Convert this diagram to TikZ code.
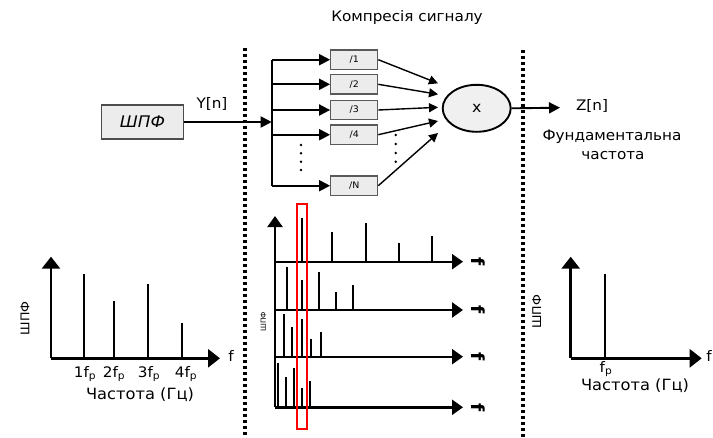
\documentclass[tikz,border=0pt]{standalone}
\usepackage{fontspec}
\setmainfont{DejaVu Sans}
\newfontfamily\hand[FakeStretch=1.05]{DejaVu Sans}
\usetikzlibrary{arrows.meta,shapes.geometric}
\begin{document}
\begin{tikzpicture}[x=1pt,y=-1pt,
  lbl/.style={font=\hand\fontsize{14.5}{16}\selectfont, inner sep=0pt},
  ylbl/.style={font=\hand\fontsize{12}{14}\selectfont, inner sep=0pt, rotate=90},
  xlbl/.style={font=\hand\fontsize{15.5}{17}\selectfont, inner sep=0pt},
  small/.style={font=\hand\fontsize{7}{8}\selectfont, inner sep=0pt},
  blk/.style={draw=gray!70!black, fill=gray!15, line width=1.2pt, minimum width=47pt, minimum height=19.5pt, inner sep=0pt, font=\hand\fontsize{9}{10}\selectfont},
  conn/.style={line width=1.9pt, -{Triangle[length=11pt,width=11pt]}},
  fan/.style={line width=1.4pt, -{Triangle[length=9pt,width=9pt]}},
  sep/.style={line width=3.2pt, dash pattern=on 3pt off 3pt},
  axis/.style={line width=2.8pt, -{Triangle[length=12pt,width=18pt]}},
  maxis/.style={line width=2.4pt, -{Triangle[length=11pt,width=15pt]}},
  spike/.style={line width=2.3pt},
  dot/.style={circle, fill=black, inner sep=0pt, minimum size=2.8pt}
]
\useasboundingbox (0,0) rectangle (713,437);

% title
\node[lbl] (title) at (407,17) {Компресія сигналу};

% separators
\draw[sep] (245,48) -- (245,437);
\draw[sep] (523,50) -- (523,437);

% FFT box and input
\node[draw=gray!60!black, fill=gray!15, line width=1.6pt, minimum width=82pt, minimum height=34pt, inner sep=0pt, font=\hand\itshape\fontsize{16}{18}\selectfont] (shpf) at (142.5,122) {ШПФ};
\node[lbl] (yn) at (212,104) {Y[n]};
\coordinate (br) at (271.7,122);
\draw[conn] (shpf.east) -- (br);

% compression blocks
\node[blk] (b1) at (354.2,59.7) {/1};
\node[blk] (b2) at (354.2,84.3) {/2};
\node[blk] (b3) at (354.2,110) {/3};
\node[blk] (b4) at (354.2,134.7) {/4};
\node[blk] (bN) at (354.2,185.7) {/N};
\coordinate (btop) at (271.7,59.7);
\coordinate (bbot) at (271.7,185.7);
\draw[line width=1.9pt] (btop) -- (bbot);
\foreach \b in {b1,b2,b3,b4,bN}{
  \draw[conn] (btop |- \b.west) -- (\b.west);
}
\foreach \y in {145,153.3,161.7,170} \node[dot] at (301,\y) {};
\foreach \y in {135,144,153,161.7} \node[dot] at (395.7,\y) {};

% multiplier
\node[ellipse, draw, fill=gray!12, line width=1.9pt, minimum width=68pt, minimum height=47pt, inner sep=0pt, font=\hand\fontsize{15}{15}\selectfont] (mul) at (476.7,108.3) {x};
\coordinate (in1) at (438,83.3);
\coordinate (in2) at (438,94.3);
\coordinate (in3) at (438,107.3);
\coordinate (in4) at (438,121);
\coordinate (in5) at (438,133);
\draw[fan] (b1.east) -- (in1);
\draw[fan] (b2.east) -- (in2);
\draw[fan] (b3.east) -- (in3);
\draw[fan] (b4.east) -- (in4);
\draw[fan] (bN.east) -- (in5);

% output
\coordinate (zout) at (560,107.7);
\draw[conn] (mul.east) -- (zout);
\node[lbl] (zn) at (592,106) {Z[n]};
\node[lbl] (fund1) at (612,137) {Фундаментальна};
\node[lbl] (fund2) at (613,156) {частота};

% left chart
\coordinate (lo) at (51,358.3);
\draw[axis] (lo) -- (51,256.7);
\draw[axis] (lo) -- (220,358.3);
\draw[spike] (84.3,358.3) -- (84.3,274.3);
\draw[spike] (114.3,358.3) -- (114.3,300.7);
\draw[spike] (148.3,358.3) -- (148.3,284);
\draw[spike] (182.3,358.3) -- (182.3,323.3);
\node[lbl] (lf) at (231,356) {f};
\node[ylbl] (ly) at (25,318.3) {ШПФ};
\node[lbl] at (85,374) {1f\textsubscript{p}};
\node[lbl] at (114,374) {2f\textsubscript{p}};
\node[lbl] at (149,374) {3f\textsubscript{p}};
\node[lbl] at (186,374) {4f\textsubscript{p}};
\node[xlbl] (lx) at (140,395) {Частота (Гц)};

% middle chart
\draw[maxis] (275,407.3) -- (275,216);
\foreach \y in {261.7,310,356.7,407.3}{
  \draw[maxis] (275,\y) -- (463,\y);
  \node[inner sep=0pt, rotate=-90, font=\hand\bfseries\fontsize{18}{18}\selectfont] at (478,\y) {f};
}
\node[small, rotate=90] at (263.3,321.7) {ШПФ};
% row 1
\foreach \x/\t in {301.7/218.3,331.7/231.7,365.7/223.3,399.3/243.3,431.7/236}
  \draw[spike] (\x,261.7) -- (\x,\t);
% row 2
\foreach \x/\t in {286.7/266.7,301.7/280,319/271.7,336/291.7,352.7/285}
  \draw[spike] (\x,310) -- (\x,\t);
% row 3
\foreach \x/\t in {284/314,292.3/327.3,301.7/319.3,311/339,320.7/331.7}
  \draw[spike] (\x,356.7) -- (\x,\t);
% row 4
\foreach \x/\t in {278.3/363.3,286/376.7,294/368.3,301.7/388.3,310/381}
  \draw[spike] (\x,407.3) -- (\x,\t);
\draw[red, line width=2.3pt] (296.7,204) rectangle (307.3,429);

% right chart
\coordinate (ro) at (570.7,358.3);
\draw[axis] (ro) -- (570.7,256.7);
\draw[axis] (ro) -- (701.7,358.3);
\draw[spike] (605,358.3) -- (605,274.3);
\node[lbl] (rf) at (709,356) {f};
\node[ylbl] (ry) at (536.7,311.7) {ШПФ};
\node[lbl] at (606,369) {f\textsubscript{p}};
\node[xlbl] (rx) at (635,386) {Частота (Гц)};
\end{tikzpicture}
\end{document}
